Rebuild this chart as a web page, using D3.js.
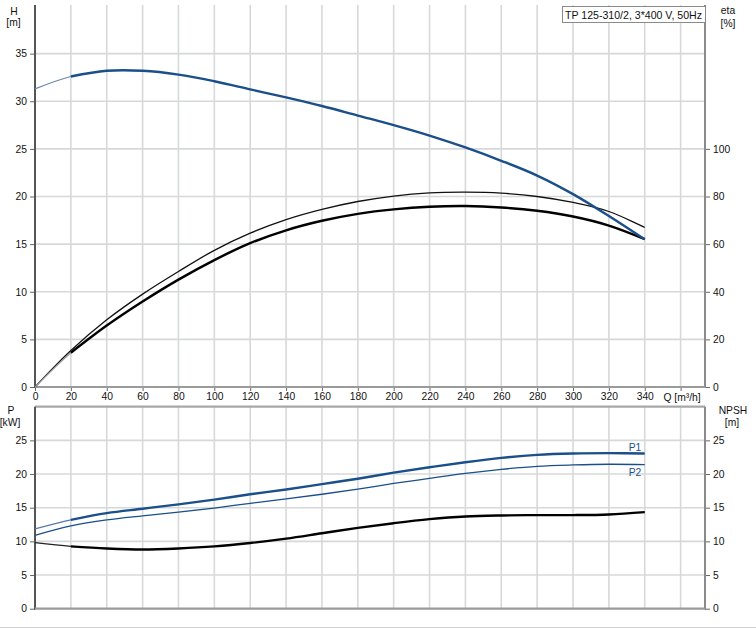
<!DOCTYPE html>
<html><head><meta charset="utf-8">
<script src="https://cdn.jsdelivr.net/npm/d3@7"></script>
<style>body{margin:0;background:#fff}text{font-family:"Liberation Sans",Arial,sans-serif}</style>
</head><body><svg id="c" width="756" height="628"></svg>
<script>
const Q = [0,20,40,60,80,100,120,140,160,180,200,220,240,260,280,300,320,340];
const H = [31.3,32.6,33.2,33.2,32.8,32.1,31.25,30.4,29.5,28.5,27.5,26.4,25.15,23.75,22.2,20.25,17.95,15.5];
const etaUpper = [0,15.3,28.2,39.0,48.5,57.4,64.6,70.3,74.6,77.9,80.2,81.5,81.8,81.4,80.0,77.5,73.7,67.0];
const etaLower = [0,14.4,25.8,35.9,45.1,53.3,60.4,65.8,69.8,72.7,74.6,75.7,76.0,75.4,74.0,71.6,67.8,62.1];
const P1 = [11.85,13.2,14.2,14.85,15.5,16.2,17.0,17.7,18.5,19.3,20.2,21.0,21.75,22.4,22.85,23.05,23.1,23.05];
const P2 = [10.9,12.3,13.2,13.8,14.35,14.95,15.65,16.3,17.0,17.75,18.6,19.35,20.1,20.7,21.15,21.35,21.45,21.4];
const NPSH = [9.8,9.25,8.95,8.8,8.95,9.25,9.75,10.4,11.2,12.0,12.7,13.3,13.7,13.85,13.9,13.9,14.0,14.35];
const xTicks = [0,20,40,60,80,100,120,140,160,180,200,220,240,260,280,300,320,340];
const hTicks = [0,5,10,15,20,25,30,35];
const etaTicks = [0,20,40,60,80,100];
const pTicks = [0,5,10,15,20,25];
const npshTicks = [0,5,10,15,20,25];
const title = "TP 125-310/2, 3*400 V, 50Hz";

const svg = d3.select("#c");
const L = 35, R = 705;
const x = d3.scaleLinear().domain([0,373.6]).range([L,R]);
const yH = d3.scaleLinear().domain([0,40]).range([387,6]);
const yE = d3.scaleLinear().domain([0,160]).range([387,6]);
const yP = d3.scaleLinear().domain([0,30]).range([608.7,406.7]);
const T1 = 5, B1 = 387, T2 = 406.7, B2 = 608.7;

const gridC = "#d6d8da";
function grid(top, bottom, ys, yscale){
  const g = svg.append("g");
  d3.range(20,361,20).forEach(q=>{
    g.append("line").attr("x1",x(q)).attr("x2",x(q)).attr("y1",top).attr("y2",bottom)
     .attr("stroke",gridC).attr("stroke-width",1.6);
  });
  ys.forEach(v=>{
    g.append("line").attr("x1",L).attr("x2",R).attr("y1",yscale(v)).attr("y2",yscale(v))
     .attr("stroke",gridC).attr("stroke-width",1.6);
  });
}
grid(T1,B1,[5,10,15,20,25,30,35],yH);
grid(T2,B2,[5,10,15,20,25],yP);

const fs = "10.3px";
const axL1 = svg.append("g").attr("transform",`translate(${L},0)`)
  .call(d3.axisLeft(yH).tickValues(hTicks).tickSize(5).tickPadding(3));
const axR1 = svg.append("g").attr("transform",`translate(${R},0)`)
  .call(d3.axisRight(yE).tickValues(etaTicks).tickSize(5).tickPadding(3));
const axB1 = svg.append("g").attr("transform",`translate(0,${B1})`)
  .call(d3.axisBottom(x).tickValues(xTicks.concat([360])).tickSize(4).tickPadding(2)
  .tickFormat(d=>d===360?"":d));
const axL2 = svg.append("g").attr("transform",`translate(${L},0)`)
  .call(d3.axisLeft(yP).tickValues(pTicks).tickSize(5).tickPadding(3));
const axR2 = svg.append("g").attr("transform",`translate(${R},0)`)
  .call(d3.axisRight(yP).tickValues(npshTicks).tickSize(5).tickPadding(3));
[axL1,axR1,axB1,axL2,axR2].forEach(a=>{
  a.select(".domain").remove();
  a.selectAll("text").attr("font-size",fs).attr("fill","#111").attr("font-family","Liberation Sans, Arial");
  a.selectAll(".tick line").attr("stroke","#666");
});
function ln(x1,y1,x2,y2,c,w){svg.append("line").attr("x1",x1).attr("y1",y1).attr("x2",x2).attr("y2",y2).attr("stroke",c).attr("stroke-width",w);}
ln(L,T1,L,B1+1,"#555",2);
ln(R,T1,R,B1+1,"#8a8a8a",2);
ln(L,B1,R,B1,"#9a9a9a",2.2);
ln(L,T2,R,T2,"#a8a8a8",2.2);
ln(L,T2,L,B2+1,"#555",2);
ln(R,T2,R,B2+1,"#8a8a8a",2);
ln(L,B2,R,B2,"#9a9a9a",2.2);
ln(0,627.5,756,627.5,"#d0d0d0",1);

function txt(s,xx,yy,anchor,col){svg.append("text").attr("x",xx).attr("y",yy).attr("text-anchor",anchor||"middle")
  .attr("font-size","10.3px").attr("fill",col||"#111").text(s);}
txt("H",14,14.5); txt("[m]",13.5,26);
txt("eta",728,14); txt("[%]",728,26.5);
txt("P",11,414); txt("[kW]",10,425.5);
txt("NPSH",733,414); txt("[m]",732,426);
txt("Q [m³/h]",682,400.5);

svg.append("rect").attr("x",562.5).attr("y",6.5).attr("width",143).attr("height",16)
  .attr("fill","#fff").attr("stroke","#8a8a8a").attr("stroke-width",1);
svg.append("text").attr("x",565).attr("y",18.5).attr("font-size","10.5px").attr("fill","#111")
  .attr("textLength",137).attr("lengthAdjust","spacingAndGlyphs").text(title);

const blue = "#1a4f8a";
const lineGen = yscale => d3.line().x(d=>x(d[0])).y(d=>yscale(d[1])).curve(d3.curveCatmullRom.alpha(0.5));
function curve(vals, yscale, color, width){
  const pts = Q.map((q,i)=>[q,vals[i]]);
  svg.append("path").attr("d",lineGen(yscale)(pts)).attr("fill","none").attr("stroke",color)
    .attr("stroke-width",width).attr("stroke-linejoin","round");
}
svg.append("clipPath").attr("id","c0").append("rect").attr("x",0).attr("y",0).attr("width",x(20)).attr("height",628);
function seg(vals,yscale,thinColor,thinW,thickColor,thickW){
  const pts = Q.map((q,i)=>[q,vals[i]]);
  svg.append("path").attr("d",lineGen(yscale)(pts)).attr("fill","none").attr("stroke",thinColor).attr("stroke-width",thinW).attr("clip-path","url(#c0)");
  svg.append("path").attr("d",lineGen(yscale)(pts.slice(1))).attr("fill","none").attr("stroke",thickColor).attr("stroke-width",thickW);
}
curve(etaUpper,yE,"#111",1.3);
seg(etaLower,yE,"#999",1.2,"#000",2.4);
seg(H,yH,"#6c86aa",1.2,blue,2.4);
curve(P2,yP,blue,1.3);
seg(P1,yP,"#5878a3",1.2,blue,2.4);
seg(NPSH,yP,"#222",1.2,"#000",2.4);

txt("P1",635,451,"middle",blue);
txt("P2",635,476,"middle",blue);
</script></body></html>
